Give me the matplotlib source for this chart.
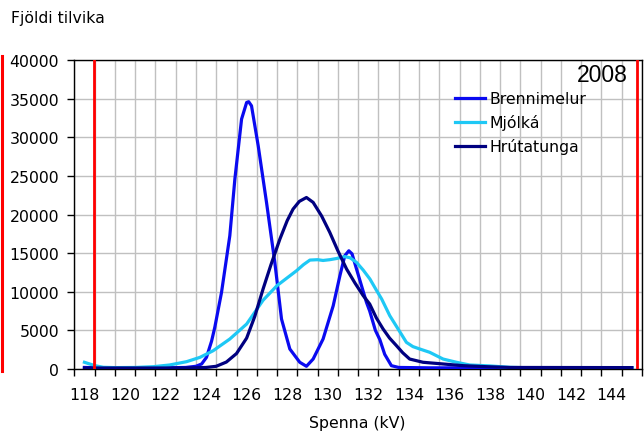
import numpy as np
import matplotlib.pyplot as plt
from matplotlib.lines import Line2D

# spenna (kV) og fjoldi tilvika, lesid af myndinni
brenni_x = [118, 119, 120, 121, 122, 123, 123.5, 123.78, 124.02, 124.27, 124.43, 124.76,
            125.17, 125.42, 125.75, 126.0, 126.1, 126.24, 126.57, 126.98, 127.39, 127.72,
            128.13, 128.62, 128.95, 129.28, 129.77, 130.27, 130.6, 130.84, 131.04, 131.2,
            131.42, 131.91, 132.07, 132.35, 132.57, 132.81, 133.14, 133.5, 135, 140, 145]
brenni_y = [200, 150, 150, 150, 150, 200, 350, 650, 1510, 3600, 5400, 9900,
            17250, 24600, 32350, 34500, 34600, 34070, 28900, 21570, 13800, 6470,
            2590, 870, 350, 1290, 3880, 8190, 12070, 14660, 15300, 14900,
            12940, 8630, 7500, 5000, 3800, 1900, 430, 200, 150, 150, 150]

mjolka_x = [118, 118.52, 118.93, 119.5, 120.5, 121.4, 122.2, 123.04, 123.7, 124.35, 125.17,
            126.0, 126.81, 127.5, 128.46, 128.8, 129.12, 129.5, 129.77, 130.1, 130.43, 130.84,
            131.1, 131.42, 131.75, 132.08, 132.4, 132.66, 133.06, 133.47, 133.88, 134.2,
            134.54, 135.03, 135.69, 136.35, 137.0, 137.99, 138.97, 140, 145]
mjolka_y = [870, 430, 220, 180, 200, 300, 520, 950, 1510, 2370, 3880,
            5820, 8900, 10800, 12720, 13500, 14100, 14150, 14050, 14150, 14300, 14550,
            14400, 13800, 12800, 11650, 10200, 9060, 6900, 5180, 3450, 2900,
            2590, 2160, 1290, 870, 520, 400, 220, 150, 150]

hrut_x = [118, 121, 123, 124, 124.5, 125.0, 125.5, 126.0, 126.4, 126.81, 127.2, 127.64,
          128.0, 128.29, 128.6, 128.95, 129.28, 129.7, 130.1, 130.5, 130.93, 131.35,
          131.75, 132.07, 132.4, 132.73, 133.05, 133.39, 133.7, 134.04, 134.7, 135.69,
          136.68, 137.83, 139, 145]
hrut_y = [130, 130, 130, 200, 350, 900, 2000, 4000, 6800, 10350, 13500, 16820,
          19200, 20700, 21700, 22200, 21570, 19800, 17690, 15300, 12940, 11100,
          9490, 8410, 6600, 5180, 4000, 3020, 2100, 1290, 870, 650,
          430, 300, 200, 180]

x_labels = list(range(118, 145, 2))
y_ticks = list(range(0, 40001, 5000))
limits = [118.49, 145.27]

fig = plt.figure(figsize=(6.44, 4.39), dpi=100)
ax = fig.add_axes([74.3 / 644, 1 - 370 / 439, (642 - 74.3) / 644, (370 - 61) / 439])

ax.plot(brenni_x, brenni_y, color='#0a0af0', lw=2.3, label='Brennimelur', zorder=3)
ax.plot(mjolka_x, mjolka_y, color='#1ec8f5', lw=2.3, label='Mjólká', zorder=3)
ax.plot(hrut_x, hrut_y, color='#000080', lw=2.3, label='Hrútatunga', zorder=3)
for v in limits:
    ax.axvline(v, color='#ff0000', lw=2, zorder=4)

ax.set_xlim(117.5, 145.5)
ax.set_ylim(0, 40000)

# tikk a milli flokka, merki i midjunni
ax.set_xticks(np.arange(117.5, 145.6, 1))
ax.set_xticklabels([])
ax.tick_params(axis='x', which='major', length=5, width=1, direction='out')
ax.set_xticks(x_labels, minor=True)
ax.set_xticklabels([str(v) for v in x_labels], minor=True)
ax.tick_params(axis='x', which='minor', length=0, pad=13, labelsize=11.3)
ax.set_yticks(y_ticks)
ax.set_yticklabels([str(v) for v in y_ticks])
ax.tick_params(axis='y', length=5, width=1, pad=6, labelsize=11.3)

ax.grid(True, which='major', color='#c0c0c0', lw=1)
ax.set_axisbelow(True)
for s in ax.spines.values():
    s.set_color('black')
    s.set_linewidth(1)

leg = ax.legend(loc='upper left', bbox_to_anchor=(0.659, 0.92), frameon=False,
                fontsize=11.3, handlelength=1.9, handletextpad=0.3, labelspacing=0.52,
                borderaxespad=0)

fig.text(628 / 644, 1 - 76 / 439, '2008', ha='right', va='center', fontsize=16.5,
         family='Liberation Sans')
fig.text(11 / 644, 1 - 19 / 439, 'Fjöldi tilvika', ha='left', va='center', fontsize=11.3)
fig.text(357 / 644, 1 - 424 / 439, 'Spenna (kV)', ha='center', va='center', fontsize=11.3)
fig.add_artist(Line2D([1.5 / 644, 1.5 / 644], [1 - 372 / 439, 1 - 57 / 439],
                      color='#ff0000', lw=2.2))

fig.savefig('out.png', dpi=100)
